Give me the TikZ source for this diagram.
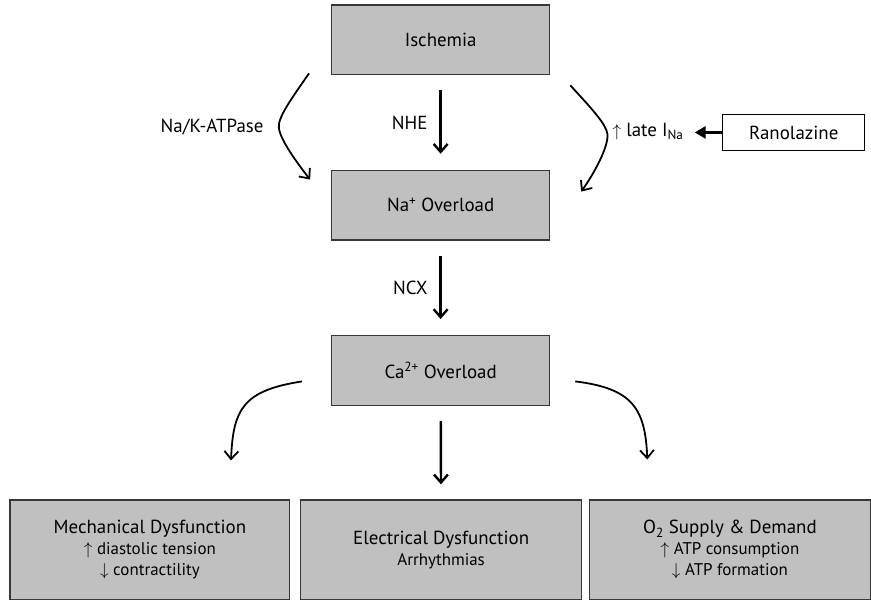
\documentclass[tikz,border=0pt]{standalone}
\usepackage{fontspec}
\setmainfont{PT Sans}
\usetikzlibrary{arrows.meta}
\definecolor{boxgray}{RGB}{192,192,192}
\definecolor{edgegray}{RGB}{55,55,55}
\newcommand{\subline}[1]{{\fontsize{17}{21}\selectfont #1}}

\begin{document}
\begin{tikzpicture}[x=1pt,y=-1pt,
	>={Straight Barb[length=8pt,width=14pt]},
	box/.style ={rectangle, draw=edgegray, fill=boxgray, line width=1.3pt, align=center,
		minimum width=219pt, minimum height=70pt, font=\fontsize{19}{23}\selectfont},
	wide/.style ={box, minimum width=282pt, minimum height=100pt},
	tag/.style ={font=\fontsize{19}{23}\selectfont, inner sep=0pt},
	flow/.style ={line width=2.4pt, shorten <=15pt, shorten >=16pt},
	curved/.style ={line width=1.8pt}]
	\fill[white] (0,0) rectangle (871,597);
		\node[box] (isch) at (442.5,40) {Ischemia};
		\node[box] (na) at (442.5,206) {Na\textsuperscript{+} Overload};
		\node[box] (ca) at (442.5,372) {Ca\textsuperscript{2+} Overload};
		\node[box, fill=white, draw=black, line width=1pt, minimum width=142pt, minimum height=36pt] (ranol) at (797,133) {Ranolazine};
		\node[wide, minimum width=281pt] (mech) at (150.5,552) {Mechanical Dysfunction\\[-2pt]
			\subline{$\uparrow$ diastolic tension}\\[-2pt] \subline{$\downarrow$ contractility}};
		\node[wide] (elec) at (443,552) {Electrical Dysfunction\\[-2pt]
			\subline{Arrhythmias}};
		\node[wide] (otwo) at (733,552) {O\textsubscript{2} Supply \& Demand\\[-2pt]
			\subline{$\uparrow$ ATP consumption}\\[-2pt] \subline{$\downarrow$ ATP formation}};
		\node[tag] (nak) at (213,128) {Na/K-ATPase};
		\node[tag, anchor=west] (late) at (615,132) {$\uparrow$ late I\textsubscript{Na}};
		% straight steps
		\draw[->, flow] (isch) -- node[tag, left=12pt] {NHE} (na);
		\draw[->, flow] (na) -- node[tag, left=12pt] {NCX} (ca);
		\draw[->, flow, shorten >=15pt] (ca) -- (elec);
		\draw[-{Triangle[length=11pt,width=12pt]}, line width=3.5pt, shorten >=11pt] (ranol.west) -- (late.east |- ranol.west);
		% side paths into Na overload
		\draw[->, curved] ([xshift=-22pt,yshift=2pt]isch.south west) .. controls (292,100) and (279,118) .. (280,128)
			.. controls (281,140) and (298,163) .. ([xshift=-21pt,yshift=-10pt]na.north west);
		\draw[->, curved] ([xshift=20pt,yshift=-10pt]isch.south east) .. controls (595,110) and (609,125) .. (610,135)
			.. controls (611,148) and (596,175) .. ([xshift=31pt,yshift=-22pt]na.north east);
		% consequences of Ca overload
		\draw[->, curved] ([xshift=-29pt,yshift=-11pt]ca.west) .. controls (245,392) and (234,410) .. ([xshift=81.5pt,yshift=39pt]mech.north);
		\draw[->, curved] ([xshift=25pt,yshift=-11pt]ca.east) .. controls (635,390) and (648,410) .. ([xshift=-83pt,yshift=40pt]otwo.north);
	\end{tikzpicture}
\end{document}
